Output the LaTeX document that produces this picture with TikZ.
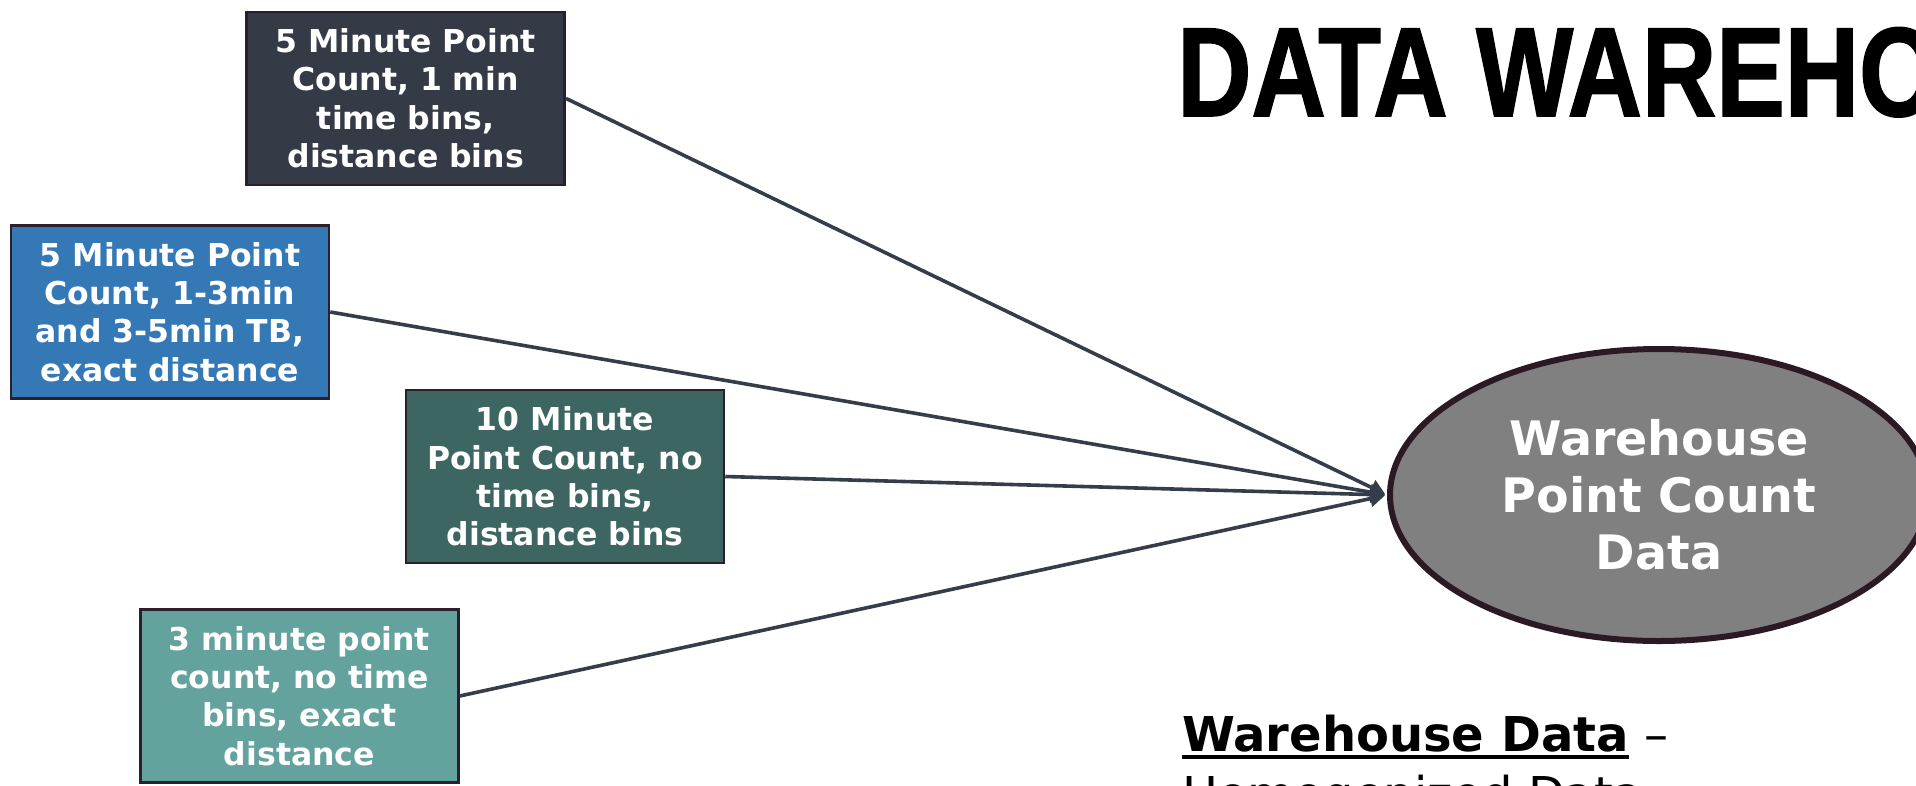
\documentclass[tikz,border=0pt]{standalone}
\usepackage{fontspec}
\setmainfont{DejaVu Sans}
\newfontfamily\titlefont[FakeStretch=0.81,FakeBold=1.2]{Liberation Sans}
\usetikzlibrary{shapes.geometric,arrows.meta}
\definecolor{boxA}{HTML}{353A47}
\definecolor{boxB}{HTML}{3578B6}
\definecolor{boxC}{HTML}{3D6662}
\definecolor{boxD}{HTML}{63A29D}
\definecolor{boxline}{HTML}{2A1F2B}
\definecolor{arrowc}{HTML}{363D4A}
\definecolor{ellfill}{HTML}{808080}
\definecolor{ellline}{HTML}{2B1A24}
\begin{document}
\begin{tikzpicture}[x=1pt,y=-1pt,
  srcbox/.style={rectangle, draw=boxline, line width=2.5pt,
    minimum width=318pt, minimum height=173pt, inner sep=0pt,
    align=center, text=white,
    font=\fontsize{31.5}{38.3}\selectfont\bfseries},
  feed/.style={draw=arrowc, line width=3.6pt,
    -{Triangle[length=15pt,width=16pt]}, shorten >=2pt},
  whnode/.style={ellipse, draw=ellline, fill=ellfill, line width=6pt,
    minimum width=538pt, minimum height=292pt, inner sep=0pt,
    align=center, text=white,
    font=\fontsize{47.5}{57}\selectfont\bfseries}
]
\useasboundingbox (0,0) rectangle (1916,785);
\clip (0,0) rectangle (1916,785);

% title
\node (title) [anchor=base west, inner sep=0pt,
  font=\fontsize{127}{127}\selectfont\titlefont\bfseries] at (1177,116)
  {DATA WAREHOUSE};

% source boxes
\node (b1) [srcbox, fill=boxA] at (405.7,98.4)
  {5 Minute Point\\Count, 1 min\\time bins,\\distance bins};
\node (b2) [srcbox, fill=boxB] at (170,312)
  {5 Minute Point\\Count, 1-3min\\and 3-5min TB,\\exact distance};
\node (b3) [srcbox, fill=boxC] at (565,476.5)
  {10 Minute\\Point Count, no\\time bins,\\distance bins};
\node (b4) [srcbox, fill=boxD] at (299.4,696)
  {3 minute point\\count, no time\\bins, exact\\distance};

% warehouse
\node (wh) [whnode] at (1659,495) {Warehouse\\Point Count\\Data};

% connectors
\draw[feed] (b1.east) -- (wh.west);
\draw[feed] (b2.east) -- (wh.west);
\draw[feed] (b4.east) -- (wh.west);
\draw[feed] (b3.east) -- (wh.west);

% bottom text
\node (wd) [anchor=base west, inner sep=0pt,
  font=\fontsize{48}{58}\selectfont\bfseries] at (1182,751) {Warehouse Data};
\draw[line width=4pt] ([yshift=-6pt]wd.base west) -- ([yshift=-6pt]wd.base east);
\node (dash) [anchor=base west, inner sep=0pt,
  font=\fontsize{48}{58}\selectfont] at (wd.base east) {\ –};
\node (homog) [anchor=base west, inner sep=0pt,
  font=\fontsize{48}{58}\selectfont] at (1182,811) {Homogenized Data};
\end{tikzpicture}
\end{document}
